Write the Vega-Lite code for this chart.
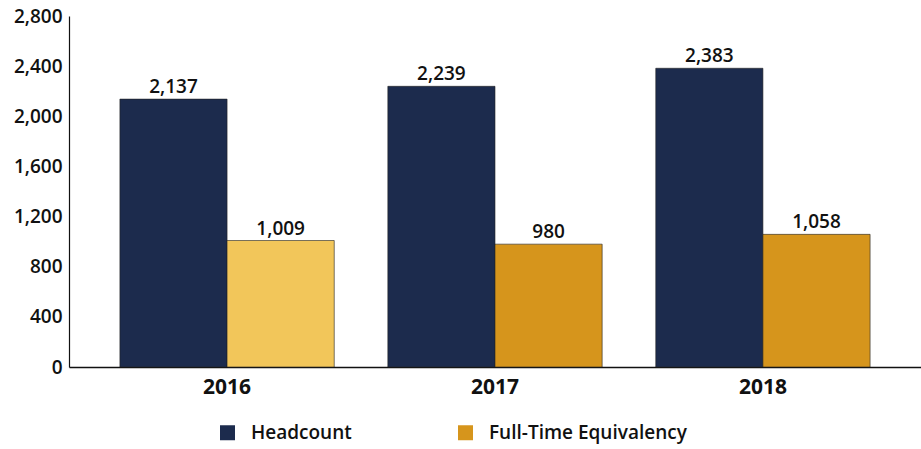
{
  "$schema": "https://vega.github.io/schema/vega-lite/v6.json",
  "width": 852,
  "height": 351,
  "autosize": {"type": "none"},
  "padding": {"left": 69, "top": 16, "right": 0, "bottom": 82},
  "background": "white",
  "config": {
    "view": {"stroke": null},
    "font": "Open Sans",
    "axis": {"labelFont": "Open Sans", "labelColor": "#111"}
  },
  "data": {
    "values": [
      {"year": "2016", "series": "Headcount", "tone": "Headcount", "value": 2137},
      {"year": "2016", "series": "Full-Time Equivalency", "tone": "FTE 2016", "value": 1009},
      {"year": "2017", "series": "Headcount", "tone": "Headcount", "value": 2239},
      {"year": "2017", "series": "Full-Time Equivalency", "tone": "Full-Time Equivalency", "value": 980},
      {"year": "2018", "series": "Headcount", "tone": "Headcount", "value": 2383},
      {"year": "2018", "series": "Full-Time Equivalency", "tone": "Full-Time Equivalency", "value": 1058}
    ]
  },
  "encoding": {
    "x": {
      "field": "year", "type": "nominal",
      "scale": {"paddingInner": 0.2, "paddingOuter": 0.19},
      "axis": {"title": null, "labelAngle": 0, "ticks": false, "domainColor": "#111", "domainWidth": 1.5, "labelFontSize": 21, "labelFontWeight": "bold", "labelPadding": 9}
    },
    "xOffset": {"field": "series", "type": "nominal", "sort": ["Headcount", "Full-Time Equivalency"], "scale": {"paddingInner": 0, "paddingOuter": 0}},
    "y": {
      "field": "value", "type": "quantitative",
      "scale": {"domain": [0, 2800], "nice": false},
      "axis": {"title": null, "values": [0, 400, 800, 1200, 1600, 2000, 2400, 2800], "format": ",d", "grid": false, "ticks": false, "domainColor": "#111", "domainWidth": 1.2, "labelFontSize": 19, "labelFontWeight": 600, "labelPadding": 7}
    }
  },
  "layer": [
    {
      "mark": {"type": "bar", "stroke": "#222", "strokeWidth": 0.6},
      "encoding": {
        "color": {
          "field": "tone", "type": "nominal",
          "scale": {"domain": ["Headcount", "Full-Time Equivalency", "FTE 2016"], "range": ["#1c2b4d", "#d6951c", "#f2c65a"]},
          "legend": {
            "title": null, "values": ["Headcount", "Full-Time Equivalency"],
            "orient": "none", "legendX": 149, "legendY": 407, "direction": "horizontal", "columns": 2,
            "columnPadding": 104, "symbolType": "square", "symbolSize": 225, "symbolStrokeWidth": 0,
            "labelFontSize": 19, "labelFontWeight": 600, "labelFont": "Open Sans", "labelColor": "#111", "labelOffset": 14, "labelLimit": 400
          }
        }
      }
    },
    {
      "mark": {"type": "text", "dy": -12, "fontSize": 19, "fontWeight": 600, "color": "#111"},
      "encoding": {
        "text": {"field": "value", "type": "quantitative", "format": ",d"}
      }
    }
  ]
}
